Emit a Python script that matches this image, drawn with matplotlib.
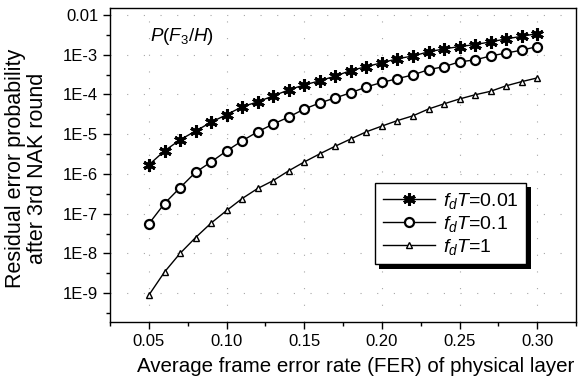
import numpy as np
import matplotlib
matplotlib.use("Agg")
import matplotlib.pyplot as plt
from matplotlib.ticker import FixedLocator, NullFormatter
import matplotlib.patheffects as pe

plt.rcParams['font.family'] = ['Liberation Sans', 'DejaVu Sans']
plt.rcParams['mathtext.fontset'] = 'custom'
plt.rcParams['mathtext.rm'] = 'Liberation Sans'
plt.rcParams['mathtext.it'] = 'Liberation Sans:italic'

fer = [0.05, 0.06, 0.07, 0.08, 0.09, 0.10, 0.11, 0.12, 0.13, 0.14, 0.15, 0.16, 0.17,
       0.18, 0.19, 0.20, 0.21, 0.22, 0.23, 0.24, 0.25, 0.26, 0.27, 0.28, 0.29, 0.30]

p_001 = [1.7e-6, 3.8e-6, 7.2e-6, 1.2e-5, 2.0e-5, 3.1e-5, 4.9e-5, 6.5e-5, 9.2e-5, 1.3e-4,
         1.74e-4, 2.2e-4, 2.9e-4, 4.0e-4, 5.0e-4, 6.3e-4, 7.9e-4, 9.3e-4, 1.18e-3, 1.4e-3,
         1.6e-3, 1.8e-3, 2.1e-3, 2.5e-3, 2.9e-3, 3.4e-3]
p_01 = [5.6e-8, 1.8e-7, 4.5e-7, 1.1e-6, 2.0e-6, 3.8e-6, 6.8e-6, 1.15e-5, 1.8e-5, 2.7e-5,
        4.3e-5, 6.1e-5, 8.2e-5, 1.1e-4, 1.55e-4, 2.0e-4, 2.5e-4, 3.1e-4, 4.2e-4, 5.0e-4,
        6.6e-4, 7.4e-4, 9.3e-4, 1.1e-3, 1.3e-3, 1.6e-3]
p_1 = [9e-10, 3.4e-9, 1.0e-8, 2.5e-8, 5.8e-8, 1.2e-7, 2.4e-7, 4.3e-7, 6.8e-7, 1.2e-6,
       2.0e-6, 3.2e-6, 5.0e-6, 7.6e-6, 1.15e-5, 1.6e-5, 2.2e-5, 2.9e-5, 4.3e-5, 5.8e-5,
       7.7e-5, 9.8e-5, 1.2e-4, 1.65e-4, 2.1e-4, 2.6e-4]

ytick_vals = [1e-9, 1e-8, 1e-7, 1e-6, 1e-5, 1e-4, 1e-3, 1e-2]
ytick_labels = ['1E-9', '1E-8', '1E-7', '1E-6', '1E-5', '1E-4', '1E-3', '0.01']
xtick_vals = [0.05, 0.10, 0.15, 0.20, 0.25, 0.30]

fig = plt.figure(figsize=(5.86, 3.79), dpi=100)
ax = fig.add_axes([0.188, 0.150, 0.795, 0.829])

ax.plot(fer, p_001, color='black', lw=1, marker=(6, 2, 0), ms=9, mew=2.2,
        label='$f_dT$=0.01')
ax.plot(fer, p_01, color='black', lw=1, marker='o', ms=6.5, mfc='white', mew=1.6,
        label='$f_dT$=0.1')
ax.plot(fer, p_1, color='black', lw=1, marker='^', ms=5, mfc='white', mew=1,
        label='$f_dT$=1')

ax.set_yscale('log')
ax.set_xlim(0.025, 0.325)
ax.set_ylim(1.86e-10, 0.015)

ax.yaxis.set_major_locator(FixedLocator(ytick_vals))
ax.set_yticklabels(ytick_labels)
ax.yaxis.set_minor_locator(FixedLocator([10 ** (k + 0.5) for k in range(-10, -1)]))
ax.yaxis.set_minor_formatter(NullFormatter())
ax.set_xticks(xtick_vals)
ax.set_xticklabels(['%.2f' % v for v in xtick_vals])
ax.set_xticks(np.arange(0.025, 0.33, 0.05), minor=True)

ax.tick_params(which='both', direction='out', top=False, right=False, labelsize=12)
ax.tick_params(which='major', length=5, width=1)
ax.tick_params(which='minor', length=3, width=1)
for s in ax.spines.values():
    s.set_linewidth(1)

ax.grid(True, which='major', color='gray', linestyle=(0, (1, 14)), lw=0.8, alpha=0.7)

ax.set_xlabel('Average frame error rate (FER) of physical layer', fontsize=14.8)
ax.xaxis.set_label_coords(0.528, -0.112)
ax.set_ylabel('Residual error probability\nafter 3rd NAK round', fontsize=15.5,
              linespacing=1.05)
ax.yaxis.set_label_coords(-0.133, 0.49)

ax.text(0.085, 0.895, '$P(F_3/H)$', transform=ax.transAxes, fontsize=13.5)

leg = ax.legend(loc='upper left', bbox_to_anchor=(0.568, 0.443), fontsize=14,
                frameon=True, fancybox=False, edgecolor='black', framealpha=1,
                handlelength=2.7, borderpad=0.4, labelspacing=0.15, handletextpad=0.4,
                borderaxespad=0, shadow=False)
leg.get_frame().set_linewidth(1)
leg.get_frame().set_path_effects([pe.SimplePatchShadow(offset=(3, -3), shadow_rgbFace='black', alpha=1),
                                  pe.Normal()])

fig.savefig('out.png', dpi=100)
